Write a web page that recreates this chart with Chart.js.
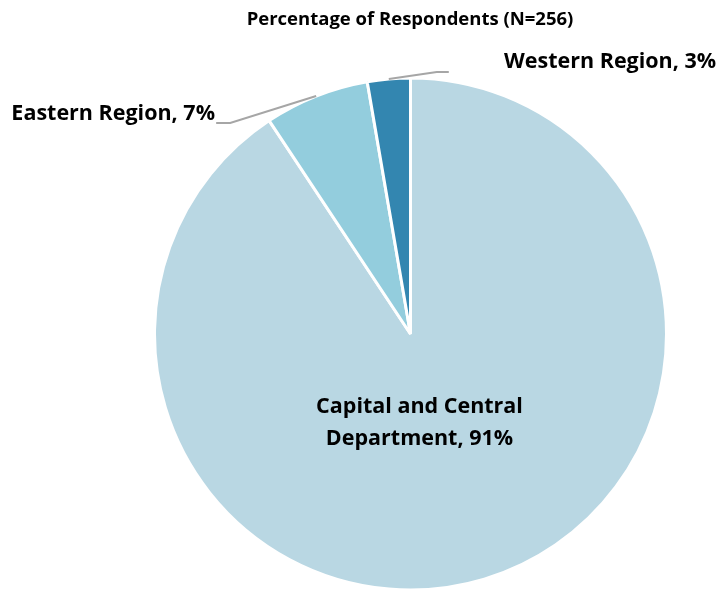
<!DOCTYPE html>
<html>
<head>
<meta charset="utf-8">
<script src="https://cdn.jsdelivr.net/npm/chart.js@4.4.1/dist/chart.umd.min.js"></script>
<style>
  html, body { margin: 0; padding: 0; background: #fff; }
  #wrap { width: 721px; height: 592px; position: relative; }
</style>
</head>
<body>
<div id="wrap"><canvas id="pie"></canvas></div>
<script>
// ── Data ───────────────────────────────────────────────────────────────────
const TITLE      = 'Percentage of Respondents (N=256)';
const categories = ['Capital and Central Department', 'Eastern Region', 'Western Region'];
const shares     = [90.6, 6.6, 2.7];
const labelPcts  = ['91%', '7%', '3%'];
const colors     = ['#B9D7E3', '#93CDDD', '#3386B0'];

const FONT = '"Open Sans", sans-serif';

// ── Labels + leader lines drawn from the arc geometry ─────────────────────
const labelPlugin = {
  id: 'pieLabels',
  afterDraw(chart) {
    const ctx  = chart.ctx;
    const arcs = chart.getDatasetMeta(0).data;

    const midPoint = arc => {
      const a = (arc.startAngle + arc.endAngle) / 2;
      return { x: arc.x + Math.cos(a) * arc.outerRadius, y: arc.y + Math.sin(a) * arc.outerRadius };
    };

    ctx.save();
    ctx.fillStyle = '#000';
    ctx.textBaseline = 'alphabetic';

    // title
    ctx.font = 'bold 18.5px ' + FONT;
    ctx.textAlign = 'center';
    ctx.fillText(TITLE, 410, 25);

    // leader lines
    ctx.strokeStyle = '#A6A6A6';
    ctx.lineWidth = 2;

    const west = midPoint(arcs[2]);
    ctx.beginPath();
    ctx.moveTo(west.x, west.y);
    ctx.lineTo(west.x + 48, west.y - 7);
    ctx.lineTo(west.x + 60, west.y - 7);
    ctx.stroke();

    const east = midPoint(arcs[1]);
    ctx.beginPath();
    ctx.moveTo(east.x, east.y);
    ctx.lineTo(east.x - 86, east.y + 27);
    ctx.lineTo(east.x - 100, east.y + 27);
    ctx.stroke();

    // category labels
    ctx.font = 'bold 21.5px ' + FONT;
    ctx.textAlign = 'left';
    ctx.fillText(categories[2] + ', ' + labelPcts[2], 504, 68);
    ctx.textAlign = 'right';
    ctx.fillText(categories[1] + ', ' + labelPcts[1], 215, 120);

    const c = arcs[0];
    ctx.textAlign = 'center';
    ctx.fillText('Capital and Central', c.x + 9, c.y + 79);
    ctx.fillText('Department, ' + labelPcts[0], c.x + 9, c.y + 111);
    ctx.restore();
  }
};

// ── Chart ─────────────────────────────────────────────────────────────────
new Chart(document.getElementById('pie'), {
  type: 'pie',
  data: {
    labels: categories,
    datasets: [{
      data: shares,
      backgroundColor: colors,
      borderColor: '#FFFFFF',
      borderWidth: 3,
      radius: 256,
    }],
  },
  options: {
    responsive: true,
    maintainAspectRatio: false,
    animation: false,
    layout: { padding: { left: 100, right: 0, top: 76, bottom: 0 } },
    plugins: {
      legend: { display: false },
      tooltip: { enabled: false },
      title: { display: false },
    },
  },
  plugins: [labelPlugin],
});
</script>
</body>
</html>
